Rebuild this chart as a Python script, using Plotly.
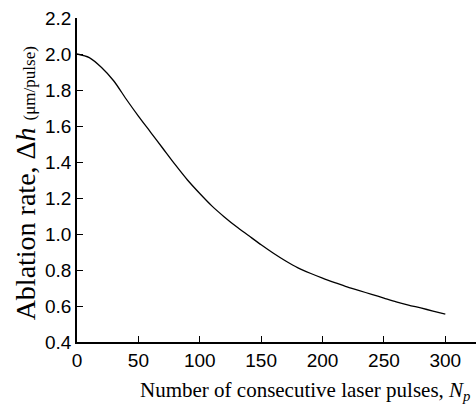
import plotly.graph_objects as go

pulses = [0, 10, 20, 30, 40, 50, 60, 70, 80, 90, 100, 110, 120, 130, 140, 150, 160, 170, 180, 190, 200,
          210, 220, 230, 240, 250, 260, 270, 280, 290, 300]
rate = [2.00, 1.98, 1.925, 1.85, 1.75, 1.655, 1.565, 1.475, 1.385, 1.30, 1.225, 1.155, 1.095, 1.04, 0.99,
        0.94, 0.893, 0.85, 0.812, 0.782, 0.755, 0.73, 0.706, 0.685, 0.665, 0.644, 0.623, 0.605, 0.589,
        0.572, 0.555]

x_ticks = [0, 50, 100, 150, 200, 250, 300]
y_ticks = [0.4, 0.6, 0.8, 1.0, 1.2, 1.4, 1.6, 1.8, 2.0, 2.2]

fig = go.Figure()
fig.add_trace(go.Scatter(x=pulses, y=rate, mode="lines",
                         line=dict(color="black", width=1.3, shape="spline", smoothing=0.8),
                         showlegend=False))

tick_font = dict(family="Liberation Sans, Arial", size=19, color="black")
fig.update_xaxes(range=[0, 325], tickvals=x_ticks, ticktext=[str(v) for v in x_ticks],
                 ticks="inside", ticklen=6, tickwidth=1, tickcolor="black",
                 showline=True, linecolor="black", linewidth=1.5, automargin=False,
                 showgrid=False, zeroline=False, tickfont=tick_font)
fig.update_yaxes(range=[0.4, 2.2], tickvals=y_ticks, ticktext=[f"{v:.1f}" for v in y_ticks],
                 ticks="inside", ticklen=6, tickwidth=1, tickcolor="black",
                 showline=True, linecolor="black", linewidth=1.5, automargin=False,
                 showgrid=False, zeroline=False, tickfont=tick_font)

fig.add_annotation(text="Number of consecutive laser pulses, <i>N<sub>p</sub></i>",
                   xref="paper", yref="paper", x=0.571, y=-0.152,
                   xanchor="center", yanchor="middle", showarrow=False,
                   font=dict(family="Liberation Serif, Times New Roman", size=21, color="black"))
fig.add_annotation(text="Ablation rate, Δ<i>h</i> <span style='font-size:17px'>(μm/pulse)</span>",
                   xref="paper", yref="paper", x=-0.13, y=0.49, textangle=-90,
                   xanchor="center", yanchor="middle", showarrow=False,
                   font=dict(family="Liberation Serif, Times New Roman", size=28, color="black"))

fig.update_layout(width=476, height=414, margin=dict(l=77, r=0, t=18, b=72),
                  plot_bgcolor="white", paper_bgcolor="white")
fig.write_html("out.html", config={"displayModeBar": False},
               post_script="document.body.style.margin='0';")
